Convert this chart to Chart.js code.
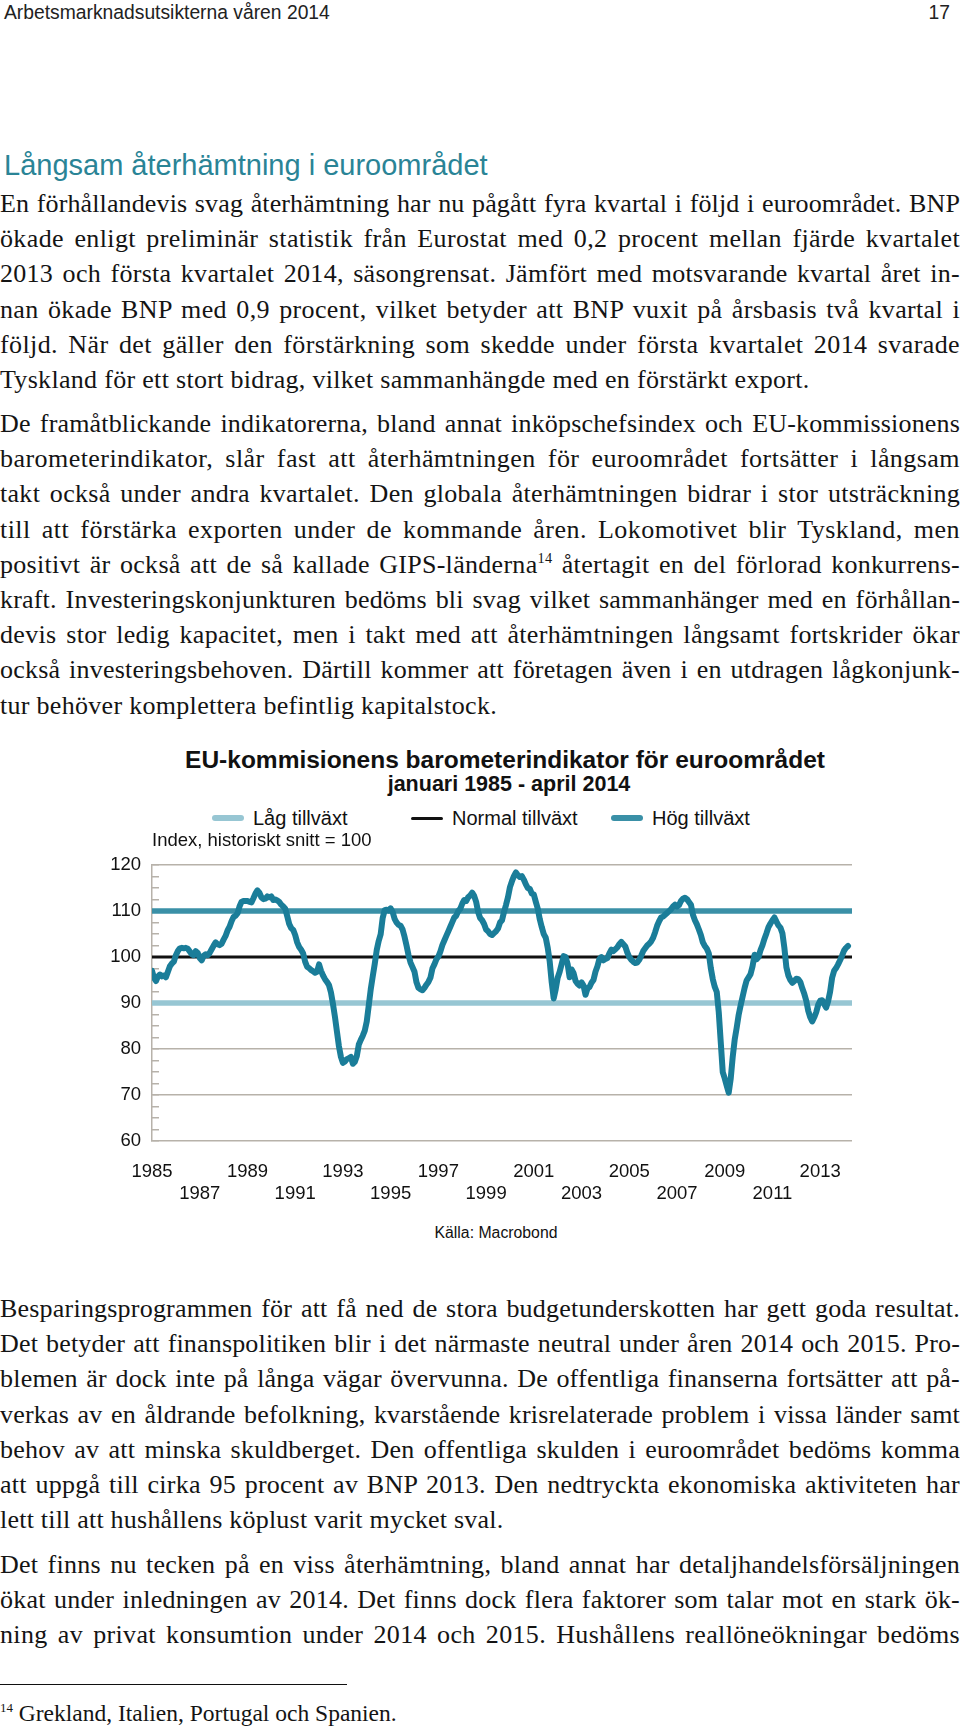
<!DOCTYPE html>
<html lang="sv">
<head>
<meta charset="utf-8">
<title>Arbetsmarknadsutsikterna våren 2014</title>
<script src="https://cdn.jsdelivr.net/npm/chart.js@4.4.1/dist/chart.umd.min.js"></script>
<style>
html,body{margin:0;padding:0;background:#fff;}
#page{position:relative;width:960px;height:1726px;overflow:hidden;}
.abs{position:absolute;white-space:nowrap;}
.sans{font-family:"Liberation Sans",Arial,Helvetica,sans-serif;}
.para{position:absolute;left:0;width:960px;font-family:"Liberation Serif","Times New Roman",serif;font-size:26px;line-height:35.2px;color:#141414;}
.para div{white-space:nowrap;text-align:justify;text-align-last:justify;height:35.2px;}
.para div.last, .para div.measure{text-align-last:left;text-align:left;}
sup{font-size:0.55em;line-height:0;vertical-align:0.7em;}
#legend{position:absolute;left:0;top:806px;width:960px;height:24px;font-family:"Liberation Sans",Arial,sans-serif;font-size:20px;line-height:24px;color:#111;}
#legend .item{position:absolute;top:0;display:flex;align-items:center;white-space:nowrap;}
#legend .swatch{width:32px;margin-right:9px;border-radius:3px;}
</style>
</head>
<body>
<div id="page">
  <div class="abs sans" style="left:4px;top:3px;font-size:19.3px;line-height:19.3px;color:#222;">Arbetsmarknadsutsikterna våren 2014</div>
  <div class="abs sans" style="right:10px;top:3px;font-size:19.3px;line-height:19.3px;color:#222;">17</div>
  <div class="abs sans" style="left:4px;top:151px;font-size:29px;line-height:29px;color:#2a8496;">Långsam återhämtning i euroområdet</div>

  <div class="para" style="top:186px;">
    <div>En förhållandevis svag återhämtning har nu pågått fyra kvartal i följd i euroområdet. BNP</div>
    <div>ökade enligt preliminär statistik från Eurostat med 0,2 procent mellan fjärde kvartalet</div>
    <div>2013 och första kvartalet 2014, säsongrensat. Jämfört med motsvarande kvartal året in-</div>
    <div>nan ökade BNP med 0,9 procent, vilket betyder att BNP vuxit på årsbasis två kvartal i</div>
    <div>följd. När det gäller den förstärkning som skedde under första kvartalet 2014 svarade</div>
    <div class="last">Tyskland för ett stort bidrag, vilket sammanhängde med en förstärkt export.</div>
  </div>

  <div class="para" style="top:406px;">
    <div>De framåtblickande indikatorerna, bland annat inköpschefsindex och EU-kommissionens</div>
    <div>barometerindikator, slår fast att återhämtningen för euroområdet fortsätter i långsam</div>
    <div>takt också under andra kvartalet. Den globala återhämtningen bidrar i stor utsträckning</div>
    <div>till att förstärka exporten under de kommande åren. Lokomotivet blir Tyskland, men</div>
    <div>positivt är också att de så kallade GIPS-länderna<sup>14</sup> återtagit en del förlorad konkurrens-</div>
    <div>kraft. Investeringskonjunkturen bedöms bli svag vilket sammanhänger med en förhållan-</div>
    <div>devis stor ledig kapacitet, men i takt med att återhämtningen långsamt fortskrider ökar</div>
    <div>också investeringsbehoven. Därtill kommer att företagen även i en utdragen lågkonjunk-</div>
    <div class="last">tur behöver komplettera befintlig kapitalstock.</div>
  </div>

  <!-- chart -->
  <div class="abs sans" style="left:50px;width:910px;text-align:center;top:748px;font-size:24.5px;line-height:24.5px;font-weight:bold;color:#111;">EU-kommisionens barometerindikator för euroområdet</div>
  <div class="abs sans" style="left:50px;width:918px;text-align:center;top:774px;font-size:21.5px;line-height:21.5px;font-weight:bold;color:#111;">januari 1985 - april 2014</div>
  <div id="legend"></div>
  <div class="abs sans" style="left:152px;top:831px;font-size:18.5px;line-height:18.5px;color:#111;z-index:2;">Index, historiskt snitt = 100</div>
  <div class="abs" style="left:0;top:836px;width:960px;height:375px;">
    <canvas id="chart" width="960" height="375"></canvas>
  </div>
  <div class="abs sans" style="left:0;width:992px;text-align:center;top:1225px;font-size:15.8px;line-height:15.8px;color:#111;">Källa: Macrobond</div>

  <div class="para" style="top:1291px;">
    <div>Besparingsprogrammen för att få ned de stora budgetunderskotten har gett goda resultat.</div>
    <div>Det betyder att finanspolitiken blir i det närmaste neutral under åren 2014 och 2015. Pro-</div>
    <div>blemen är dock inte på långa vägar övervunna. De offentliga finanserna fortsätter att på-</div>
    <div>verkas av en åldrande befolkning, kvarstående krisrelaterade problem i vissa länder samt</div>
    <div>behov av att minska skuldberget. Den offentliga skulden i euroområdet bedöms komma</div>
    <div>att uppgå till cirka 95 procent av BNP 2013. Den nedtryckta ekonomiska aktiviteten har</div>
    <div class="last">lett till att hushållens köplust varit mycket sval.</div>
  </div>

  <div class="para" style="top:1547px;">
    <div>Det finns nu tecken på en viss återhämtning, bland annat har detaljhandelsförsäljningen</div>
    <div>ökat under inledningen av 2014. Det finns dock flera faktorer som talar mot en stark ök-</div>
    <div>ning av privat konsumtion under 2014 och 2015. Hushållens reallöneökningar bedöms</div>
  </div>

  <div class="abs" style="left:0;top:1684px;width:347px;height:0;border-top:1.5px solid #111;"></div>
  <div class="para" style="top:1696px;font-size:23.5px;"><div class="last"><sup>14</sup> Grekland, Italien, Portugal och Spanien.</div></div>
</div>

<script>
// ---- Data ----
const startYear = 1985;               // first month = January 1985
const monthsOnAxis = 352;             // x-axis span in months
const labelYears = [1985, 1987, 1989, 1991, 1993, 1995, 1997, 1999, 2001, 2003, 2005, 2007, 2009, 2011, 2013];
const yTickValues = [60, 70, 80, 90, 100, 110, 120];

const seriesName = 'EU-kommissionens barometerindikator';
const esi1985_1989 = [
  97.0, 95.5, 94.8, 95.8, 96.2, 95.8, 96.0, 95.6, 96.8, 98.0, 98.6, 99.0,
  100.4, 101.3, 101.9, 102.0, 101.9, 102.0, 101.8, 101.2, 100.6, 100.4, 101.3, 100.9,
  99.8, 99.3, 100.3, 100.6, 100.4, 100.9, 101.7, 102.5, 103.2, 102.8, 102.6, 102.9,
  103.8, 104.6, 105.8, 106.6, 107.8, 108.7, 109.0, 109.5, 111.0, 112.0, 112.2, 112.2,
  112.2, 112.0, 111.9, 112.8, 113.8, 114.5, 114.0, 113.0, 112.6, 112.7, 113.2, 113.0
];
const esi1990_1994 = [
  113.2, 112.4, 112.5, 112.3, 112.0, 111.4, 111.0, 110.5, 108.9, 107.2, 106.3, 105.9,
  104.8, 103.2, 102.2, 101.6, 100.8, 99.0, 97.9, 97.6, 97.2, 96.9, 96.6, 96.8,
  98.4, 97.0, 96.0, 95.2, 94.6, 93.9, 92.3, 89.8, 87.0, 83.8, 80.6, 78.3,
  77.0, 77.3, 77.8, 78.0, 78.3, 76.8, 77.2, 78.5, 81.0, 82.0, 82.9, 84.0,
  86.0, 89.5, 93.0, 95.8, 98.5, 101.5, 103.5, 105.0, 108.5, 110.2, 110.3, 110.1
];
const esi1995_1999 = [
  110.6, 109.8, 108.3, 107.5, 107.0, 106.8, 106.0, 104.4, 102.5, 100.4, 98.8, 97.8,
  96.8, 94.5, 93.3, 93.0, 92.8, 93.3, 94.0, 94.6, 95.5, 97.5, 98.4, 99.5,
  100.1, 101.2, 102.6, 103.6, 104.6, 105.6, 106.6, 107.6, 108.6, 109.0, 110.0, 110.5,
  111.6, 112.4, 112.2, 113.0, 113.4, 114.0, 113.3, 112.0, 109.8, 108.5, 108.0, 107.2,
  106.0, 105.6, 105.0, 104.8, 105.2, 105.6, 106.2, 107.5, 108.0, 109.8, 111.3, 113.0
];
const esi2000_2004 = [
  115.2, 116.5, 117.6, 118.4, 117.8, 117.4, 117.6, 116.8, 115.8, 115.0, 114.8, 113.8,
  113.6, 112.0, 110.5, 108.2, 106.5, 105.0, 104.2, 102.0, 99.0, 94.5, 91.0, 93.0,
  95.5, 96.8, 98.5, 100.2, 100.0, 98.5, 95.6, 97.3, 96.5, 94.8, 94.2, 93.8,
  94.5, 93.8, 91.8, 93.2, 93.5, 94.4, 95.0, 96.8, 98.0, 99.6, 100.0, 99.3,
  99.6, 99.8, 100.8, 101.6, 101.3, 101.7, 102.1, 102.8, 103.3, 102.8, 102.3, 101.0
];
const esi2005_2009 = [
  100.0, 99.4, 99.0, 98.7, 98.8, 99.4, 100.3, 101.3, 101.9, 102.5, 102.9, 103.4,
  104.2, 105.4, 106.8, 107.8, 108.6, 108.8, 109.2, 109.6, 110.0, 110.4, 111.0, 111.4,
  111.0, 111.3, 112.2, 112.7, 112.9, 112.6, 112.0, 111.4, 109.2, 108.0, 107.1, 106.0,
  104.8, 103.2, 102.4, 101.8, 100.8, 97.6, 95.2, 93.5, 92.4, 88.0, 81.5, 75.0,
  73.6, 72.0, 70.5, 73.5, 78.2, 82.0, 84.6, 87.4, 89.5, 91.4, 93.3, 94.9
];
const esi2010_2014 = [
  95.6, 96.3, 98.0, 100.5, 99.5, 100.0, 101.5, 102.6, 104.0, 105.2, 106.5, 107.3,
  108.0, 108.6, 107.7, 106.9, 106.4, 105.2, 102.0, 97.8, 96.0, 95.0, 94.4, 94.8,
  95.3, 95.2, 94.6, 93.2, 92.0, 90.5, 88.3, 86.9, 86.0, 86.9, 88.0, 89.6,
  90.5, 90.6, 89.8, 89.0, 90.4, 92.5, 95.5, 97.0, 97.6, 98.4, 99.3, 100.3,
  101.4, 102.0, 102.4
];

const refNames = ['Låg tillväxt', 'Normal tillväxt', 'Hög tillväxt'];
const refLevels = [90, 100, 110];

// ---- Styling ----
const FONT = "'Liberation Sans', Arial, Helvetica, sans-serif";
const seriesColor = '#1a7d99';
const refColors = ['#97c6d3', '#111111', '#3a90a7'];
const refWidths = [5.5, 3, 5.5];
const legendLefts = [212, 411, 611];
const gridColor = '#b7b2aa';

const esi = [].concat(esi1985_1989, esi1990_1994, esi1995_1999, esi2000_2004, esi2005_2009, esi2010_2014);
const esiPoints = esi.map((v, i) => ({x: i, y: v}));

const refDatasets = refNames.map((name, i) => ({
  label: name,
  data: [{x: 0, y: refLevels[i]}, {x: monthsOnAxis, y: refLevels[i]}],
  borderColor: refColors[i],
  backgroundColor: refColors[i],
  borderWidth: refWidths[i],
  borderCapStyle: 'round',
  pointRadius: 0,
  tension: 0
}));

const chart = new Chart(document.getElementById('chart').getContext('2d'), {
  type: 'line',
  data: {
    datasets: [{
      label: seriesName,
      data: esiPoints,
      borderColor: seriesColor,
      backgroundColor: seriesColor,
      borderWidth: 6,
      borderJoinStyle: 'round',
      borderCapStyle: 'round',
      pointRadius: 0,
      tension: 0
    }].concat(refDatasets)
  },
  options: {
    responsive: false,
    animation: false,
    events: [],
    layout: {padding: {top: 20, right: 108, bottom: 0, left: 0}},
    plugins: {legend: {display: false}, tooltip: {enabled: false}, title: {display: false}},
    scales: {
      x: {
        type: 'linear',
        min: 0,
        max: monthsOnAxis,
        grid: {display: false, drawTicks: false},
        border: {display: false},
        afterBuildTicks: (scale) => {
          scale.ticks = labelYears.map(y => ({value: (y - startYear) * 12}));
        },
        afterFit: (scale) => { scale.height = 70; },
        ticks: {
          autoSkip: false,
          maxRotation: 0,
          minRotation: 0,
          padding: 20,
          color: '#111',
          font: {family: FONT, size: 18.5, lineHeight: 1.2},
          callback: (value) => {
            const year = startYear + value / 12;
            const row = ((year - startYear) / 2) % 2;
            return row === 0 ? [String(year), ''] : ['', String(year)];
          }
        }
      },
      y: {
        min: 60,
        max: 120,
        afterFit: (scale) => { scale.width = 152; },
        ticks: {
          stepSize: 2.5,
          autoSkip: false,
          padding: 18,
          color: '#111',
          font: {family: FONT, size: 18.5},
          callback: (value) => yTickValues.includes(value) ? String(value) : ''
        },
        grid: {
          color: (ctx) => (ctx.tick && yTickValues.includes(ctx.tick.value)) ? gridColor : 'rgba(0,0,0,0)',
          lineWidth: 1.5,
          drawTicks: true,
          tickLength: -7,
          tickColor: gridColor,
          tickWidth: 1.5
        },
        border: {display: true, color: gridColor, width: 1.5}
      }
    }
  }
});

// HTML legend built from the chart's reference datasets
const legendEl = document.getElementById('legend');
chart.data.datasets.slice(1).forEach((ds, i) => {
  const item = document.createElement('div');
  item.className = 'item';
  item.style.left = legendLefts[i] + 'px';
  const sw = document.createElement('span');
  sw.className = 'swatch';
  sw.style.background = ds.borderColor;
  sw.style.height = ds.borderWidth + 'px';
  const tx = document.createElement('span');
  tx.textContent = ds.label;
  item.appendChild(sw);
  item.appendChild(tx);
  legendEl.appendChild(item);
});

// Fit justified body lines: spread part of the slack into letter spacing
document.querySelectorAll('.para').forEach(p => {
  const lines = Array.from(p.children);
  const spacings = [];
  lines.forEach(line => {
    if (line.classList.contains('last')) return;
    line.classList.add('measure');
    const r = document.createRange();
    r.selectNodeContents(line);
    const w = r.getBoundingClientRect().width;
    line.classList.remove('measure');
    const n = line.textContent.length;
    let ls = (960 - w) * 0.45 / n;
    ls = Math.max(-0.9, Math.min(0.9, ls));
    if (w > 960) ls = (960 - w) / n - 0.05;
    line.style.letterSpacing = ls.toFixed(3) + 'px';
    spacings.push(ls);
  });
  const avg = spacings.length ? spacings.reduce((a, b) => a + b, 0) / spacings.length : 0;
  lines.forEach(line => {
    if (line.classList.contains('last')) line.style.letterSpacing = Math.max(-0.5, Math.min(0.5, avg)).toFixed(3) + 'px';
  });
});
</script>
</body>
</html>
